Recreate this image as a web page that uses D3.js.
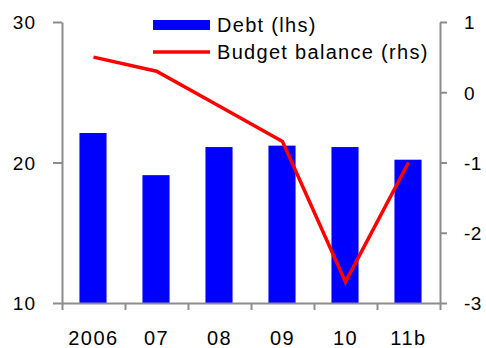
<!DOCTYPE html>
<html>
<head>
<meta charset="utf-8">
<script src="https://cdn.jsdelivr.net/npm/d3@7"></script>
<style>
  html, body { margin: 0; padding: 0; background: #fff; }
  svg { display: block; font-family: "Liberation Sans", Arial, sans-serif; }
</style>
</head>
<body>
<svg id="chart" width="486" height="348"></svg>
<script>
const categories = ["2006", "07", "08", "09", "10", "11b"];
const debt = [22.1, 19.1, 21.1, 21.2, 21.1, 20.2];
const budgetBalance = [0.5, 0.3, -0.2, -0.7, -2.7, -1.0];
const leftTicks = [10, 20, 30];
const rightTicks = [-3, -2, -1, 0, 1];
const seriesNames = ["Debt (lhs)", "Budget balance (rhs)"];

const svg = d3.select("#chart");
const m = { left: 62, right: 440, top: 22, bottom: 303 };
const axisColor = "#8c8c8c";

const x = d3.scaleBand().domain(categories).range([m.left, m.right]).paddingInner(0).paddingOuter(0);
const xEdge = d3.scaleLinear().domain([0, categories.length]).range([m.left, m.right]);
const yL = d3.scaleLinear().domain([10, 30]).range([m.bottom, m.top]);
const yR = d3.scaleLinear().domain([-3, 1]).range([m.bottom, m.top]);

const barW = x.bandwidth() * 0.43;

// bars
svg.append("g").selectAll("rect").data(debt).join("rect")
  .attr("x", (d, i) => x(categories[i]) + x.bandwidth() / 2 - barW / 2 - 0.5)
  .attr("width", barW)
  .attr("y", d => yL(d))
  .attr("height", d => yL(10) - yL(d))
  .attr("fill", "#0000ff");

// axes
function styleAxis(g) {
  g.selectAll("path.domain").attr("stroke", axisColor).attr("stroke-width", 2);
  g.selectAll(".tick line").attr("stroke", axisColor).attr("stroke-width", 2);
  g.selectAll("text").attr("fill", "#000");
}

const gL = svg.append("g").attr("transform", `translate(${m.left},0)`)
  .call(d3.axisLeft(yL).tickValues(leftTicks).tickSize(9).tickSizeOuter(0).tickPadding(17));
styleAxis(gL);
gL.selectAll("text").attr("font-size", 19).attr("letter-spacing", 1).attr("dy", "0.36em");

const gR = svg.append("g").attr("transform", `translate(${m.right},0)`)
  .call(d3.axisRight(yR).tickValues(rightTicks).tickSize(7).tickSizeOuter(0).tickPadding(17)
    .tickFormat(d => String(d)));
styleAxis(gR);
gR.selectAll("text").attr("font-size", 19).attr("letter-spacing", 0.5).attr("dy", "0.36em");

const gB = svg.append("g").attr("transform", `translate(0,${m.bottom})`)
  .call(d3.axisBottom(xEdge).tickValues(d3.range(categories.length + 1)).tickSize(7).tickSizeOuter(0).tickFormat(""));
styleAxis(gB);

const gBL = svg.append("g").attr("transform", `translate(0,${m.bottom})`)
  .call(d3.axisBottom(x).tickSize(0).tickPadding(28));
gBL.select("path.domain").remove();
gBL.selectAll("text").attr("font-size", 20).attr("letter-spacing", 1.5).attr("fill", "#000");

// line
const line = d3.line()
  .x((d, i) => x(categories[i]) + x.bandwidth() / 2)
  .y(d => yR(d));
svg.append("path").datum(budgetBalance)
  .attr("d", line)
  .attr("fill", "none")
  .attr("stroke", "#ff0000")
  .attr("stroke-width", 3.5)
  .attr("stroke-linejoin", "miter");

// legend
const lg = svg.append("g");
lg.append("rect").attr("x", 153).attr("y", 20).attr("width", 57).attr("height", 10).attr("fill", "#0000ff");
lg.append("line").attr("x1", 153).attr("x2", 210).attr("y1", 52).attr("y2", 52)
  .attr("stroke", "#ff0000").attr("stroke-width", 3.5);
lg.append("text").attr("x", 217).attr("y", 32).text(seriesNames[0])
  .attr("font-size", 20).attr("letter-spacing", 1.3).attr("fill", "#000");
lg.append("text").attr("x", 217).attr("y", 59).text(seriesNames[1])
  .attr("font-size", 20).attr("letter-spacing", 1.3).attr("fill", "#000");
</script>
</body>
</html>
